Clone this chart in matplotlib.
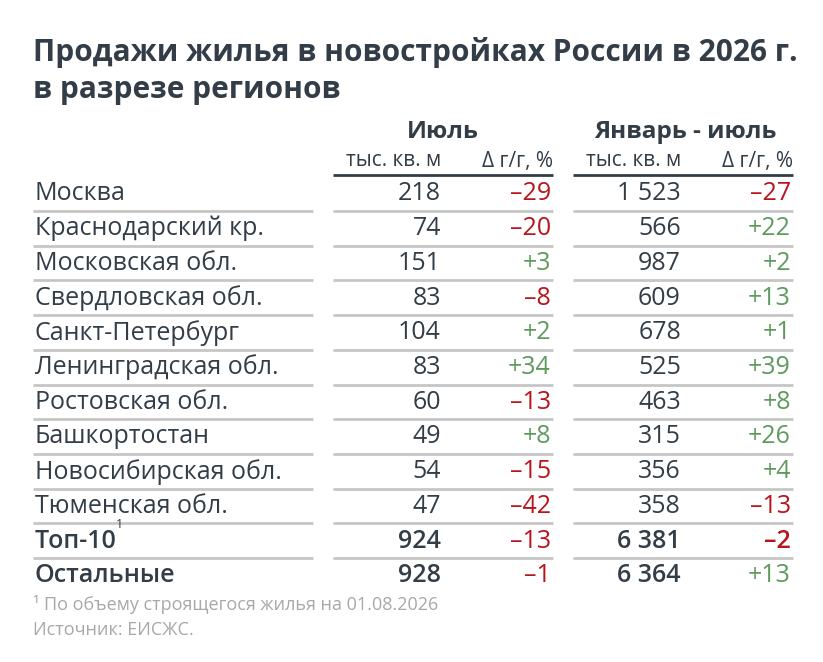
import matplotlib.pyplot as plt

plt.rcParams['font.family'] = ['Open Sans', 'DejaVu Sans']

# данные таблицы
regions = ["Москва", "Краснодарский кр.", "Московская обл.", "Свердловская обл.",
           "Санкт-Петербург", "Ленинградская обл.", "Ростовская обл.", "Башкортостан",
           "Новосибирская обл.", "Тюменская обл.", "Топ-10", "Остальные"]
july_vol = [218, 74, 151, 83, 104, 83, 60, 49, 54, 47, 924, 928]
july_yoy = [-29, -20, 3, -8, 2, 34, -13, 8, -15, -42, -13, -1]
ytd_vol = [1523, 566, 987, 609, 678, 525, 463, 315, 356, 358, 6381, 6364]
ytd_yoy = [-27, 22, 2, 13, 1, 39, 8, 26, 4, -13, -2, 13]

title = "Продажи жилья в новостройках России в 2026 г.\nв разрезе регионов"
groups = ["Июль", "Январь - июль"]
subheads = ["тыс. кв. м", "Δ г/г, %"]
footnote = "¹ По объему строящегося жилья на 01.08.2026"
source = "Источник: ЕИСЖС."

DARK = "#333d47"
RED = "#b8141b"
GREEN = "#5e9a5e"
GRID = "#c6c6c6"
GREY = "#a8a8a8"


def fmt_vol(v):
    return f"{v:,}".replace(",", " ")


def fmt_pct(v):
    return f"+{v}" if v > 0 else f"–{abs(v)}"


W, H = 823, 662
fig = plt.figure(figsize=(W / 100, H / 100), dpi=100)
ax = fig.add_axes([0, 0, 1, 1])
ax.set_xlim(0, W)
ax.set_ylim(H, 0)
ax.axis("off")

ax.text(33, 71, title, fontsize=21.5, fontweight="bold", color=DARK,
        va="center", linespacing=1.32)

# заголовки групп
ax.text(443, 132, groups[0], fontsize=17.5, fontweight="bold", color=DARK, ha="center", va="center")
ax.text(685, 132, groups[1], fontsize=17.5, fontweight="bold", color=DARK, ha="center", va="center")
for x0, x1 in [(333, 553), (573, 793)]:
    ax.text(x0 + 108, 161, subheads[0], fontsize=15, color=DARK, ha="right", va="center")
    ax.text(x1, 161, subheads[1], fontsize=15, color=DARK, ha="right", va="center")
    ax.plot([x0, x1], [175, 175], color=DARK, lw=2, solid_capstyle="butt")

y0, dy = 194, 34.7
n = len(regions)
for i in range(n):
    y = y0 + i * dy
    bold = i >= 10
    fw = "semibold" if bold else "normal"
    ax.text(35, y, regions[i], fontsize=18, color=DARK, fontweight=fw, va="center")
    if regions[i] == "Топ-10":
        ax.text(116, y - 17, "1", fontsize=9, color=DARK, va="center")
    ax.text(441, y, fmt_vol(july_vol[i]), fontsize=18, color=DARK, fontweight=fw,
            ha="right", va="center")
    ax.text(551, y, fmt_pct(july_yoy[i]), fontsize=18,
            color=GREEN if july_yoy[i] > 0 else RED, ha="right", va="center")
    ax.text(681, y, fmt_vol(ytd_vol[i]), fontsize=18, color=DARK, fontweight=fw,
            ha="right", va="center")
    ax.text(791, y, fmt_pct(ytd_yoy[i]), fontsize=18,
            color=GREEN if ytd_yoy[i] > 0 else RED,
            fontweight="semibold" if regions[i] == "Топ-10" else "normal",
            ha="right", va="center")
    if i < n - 1:
        ly = y + 17
        for x0, x1 in [(33, 313), (333, 553), (573, 793)]:
            ax.plot([x0, x1], [ly, ly], color=GRID, lw=2, solid_capstyle="butt")

ax.text(33, 604, footnote, fontsize=13, color=GREY, va="center")
ax.text(33, 630, source, fontsize=13, color=GREY, va="center")

fig.savefig("out.png", dpi=100, facecolor="white")
